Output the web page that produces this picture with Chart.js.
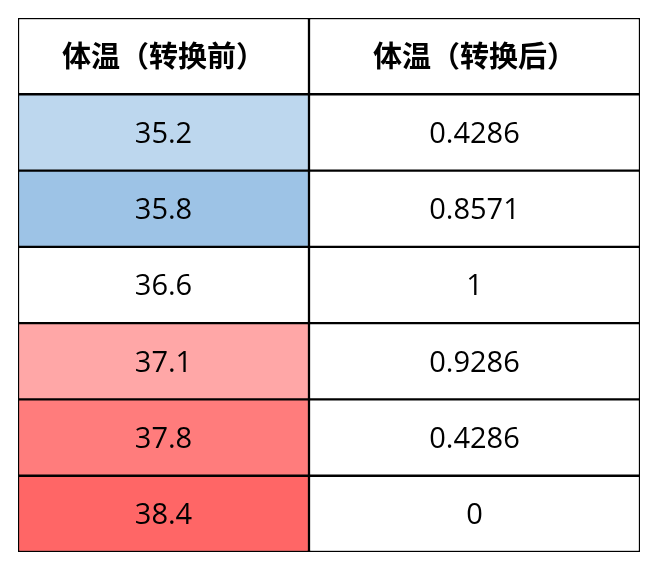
<!DOCTYPE html>
<html><head><meta charset="utf-8">
<script src="https://cdn.jsdelivr.net/npm/chart.js@4"></script>
<style>html,body{margin:0;padding:0;background:#fff}#w{width:656px;height:567px}</style>
</head><body><div id="w"><canvas id="c"></canvas></div>
<script>
const headers = ["体温（转换前）", "体温（转换后）"];
const before = ["35.2", "35.8", "36.6", "37.1", "37.8", "38.4"];
const after = ["0.4286", "0.8571", "1", "0.9286", "0.4286", "0"];
const cellColors = ["#BDD7EE", "#9DC3E6", "#FFFFFF", "#FFA7A7", "#FF7C7C", "#FF6666"];

const COL1 = 291, COL2 = 331;
const rows = ["h"].concat(before.map((_, i) => "r" + i));
const col1Colors = ["#FFFFFF"].concat(cellColors);
const textPlugin = {
  id: 'txt',
  afterDatasetsDraw(chart) {
    const ctx = chart.ctx, xs = chart.scales.x, ys = chart.scales.y;
    const x1 = xs.getPixelForValue(COL1 / 2), x2 = xs.getPixelForValue(COL1 + COL2 / 2);
    ctx.save(); ctx.fillStyle = '#000'; ctx.textAlign = 'center'; ctx.textBaseline = 'middle';
    rows.forEach((r, i) => {
      const y = ys.getPixelForValue(i);
      if (i === 0) {
        ctx.font = 'bold 29px "Noto Sans CJK SC"';
        ctx.fillText(headers[0], x1, y); ctx.fillText(headers[1], x2, y);
      } else {
        ctx.font = '29px "Open Sans"';
        ctx.fillText(before[i - 1], x1, y + 2); ctx.fillText(after[i - 1], x2, y + 2);
      }
    });
    ctx.restore();
  }
};
new Chart(document.getElementById('c'), {
  type: 'bar',
  data: {
    labels: rows,
    datasets: [
      { data: rows.map(() => COL1), backgroundColor: col1Colors, borderColor: '#000', borderWidth: 1.5, borderSkipped: false },
      { data: rows.map(() => COL2), backgroundColor: '#FFFFFF', borderColor: '#000', borderWidth: 1.5, borderSkipped: false }
    ]
  },
  options: {
    indexAxis: 'y', responsive: true, maintainAspectRatio: false, animation: false,
    layout: { padding: { left: 18, right: 16, top: 18, bottom: 15 } },
    datasets: { bar: { barPercentage: 1, categoryPercentage: 1 } },
    scales: {
      x: { stacked: true, display: false, min: 0, max: COL1 + COL2 },
      y: { stacked: true, display: false }
    },
    plugins: { legend: { display: false }, tooltip: { enabled: false } }
  },
  plugins: [textPlugin]
});
</script></body></html>
